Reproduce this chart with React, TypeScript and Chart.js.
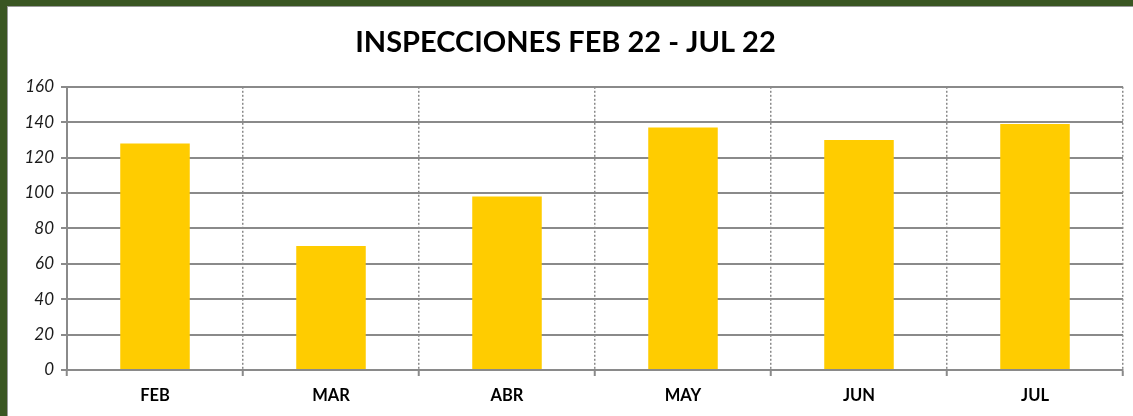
import React, { useEffect, useRef } from "react";
import { Chart, registerables } from "chart.js";

Chart.register(...registerables);

const categories = ["FEB", "MAR", "ABR", "MAY", "JUN", "JUL"];
const inspecciones = [128, 70, 98, 137, 130, 139];
const yTicks = [0, 20, 40, 60, 80, 100, 120, 140, 160];
const chartTitle = "INSPECCIONES FEB 22 - JUL 22";

export default function App() {
  const ref = useRef<HTMLCanvasElement | null>(null);

  useEffect(() => {
    if (!ref.current) return;
    const chart = new Chart(ref.current, {
      type: "bar",
      data: {
        labels: categories,
        datasets: [
          {
            data: inspecciones,
            backgroundColor: "#FFCC00",
            borderWidth: 0,
            barPercentage: 0.395,
            categoryPercentage: 1,
          },
        ],
      },
      options: {
        animation: false,
        responsive: false,
        devicePixelRatio: 1,
        layout: { padding: { left: 0, right: 10, top: 0, bottom: 0 } },
        plugins: {
          legend: { display: false },
          tooltip: { enabled: false },
          title: {
            display: true,
            text: chartTitle,
            color: "#000000",
            font: { family: "Lato", size: 29, weight: "bold", lineHeight: 1.2 },
            padding: { top: 18, bottom: 27 },
          },
        },
        scales: {
          x: {
            grid: {
              display: true,
              offset: true,
              color: "#8a8a8a",
              lineWidth: 1.5,
              drawTicks: true,
              tickLength: 6,
              tickColor: "#8a8a8a",
              tickWidth: 2,
            },
            border: { display: true, color: "#8a8a8a", width: 2, dash: [2, 2] },
            ticks: {
              color: "#000000",
              font: { family: "Lato", size: 16.5, weight: "bold" },
              padding: 10,
              maxRotation: 0,
            },
            afterFit: (s: any) => {
              s.height = 46;
            },
          },
          y: {
            min: 0,
            max: 160,
            afterBuildTicks: (s: any) => {
              s.ticks = yTicks.map((v) => ({ value: v }));
            },
            grid: {
              color: "#8a8a8a",
              lineWidth: 2,
              tickLength: 6,
              tickColor: "#8a8a8a",
              tickWidth: 2,
            },
            border: { display: true, color: "#8a8a8a", width: 2 },
            ticks: {
              color: "#1a1a1a",
              font: { family: "Lato", size: 17, style: "italic" },
              padding: 7,
            },
            afterFit: (s: any) => {
              s.width = 59;
            },
          },
        },
      },
    });
    return () => chart.destroy();
  }, []);

  return (
    <div
      style={{
        position: "absolute",
        left: 0,
        top: 0,
        width: 1133,
        height: 416,
        background: "#3a5622",
        overflow: "hidden",
      }}
    >
      <div
        style={{
          position: "absolute",
          left: 7,
          top: 6,
          width: 1126,
          height: 410,
          background: "#ffffff",
          borderLeft: "1px solid #9a9a9a",
          borderTop: "1px solid #9a9a9a",
          boxSizing: "border-box",
        }}
      >
        <canvas ref={ref} width={1125} height={409} style={{ display: "block" }} />
      </div>
    </div>
  );
}
